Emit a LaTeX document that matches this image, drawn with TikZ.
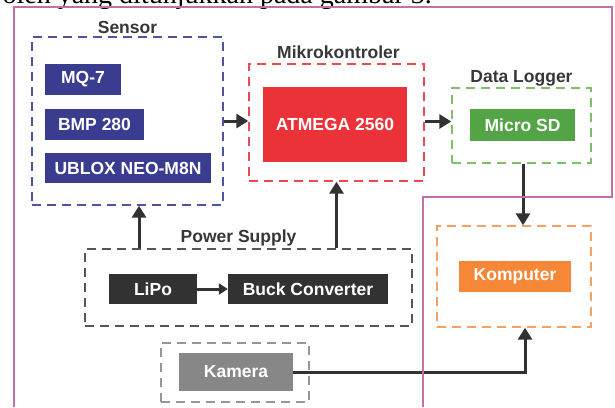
\documentclass[tikz,border=0pt]{standalone}
\usepackage{fontspec}
\setmainfont{Liberation Sans}
\newfontfamily\bodyserif{Liberation Serif}
\usetikzlibrary{arrows.meta}

\definecolor{sensorfill}{RGB}{58,60,143}
\definecolor{sensorline}{RGB}{80,82,165}
\definecolor{mcufill}{RGB}{234,50,56}
\definecolor{mculine}{RGB}{238,72,80}
\definecolor{logfill}{RGB}{82,164,68}
\definecolor{logline}{RGB}{125,192,105}
\definecolor{pcfill}{RGB}{245,135,55}
\definecolor{pcline}{RGB}{247,160,95}
\definecolor{psfill}{RGB}{50,50,50}
\definecolor{psline}{RGB}{85,85,85}
\definecolor{camfill}{RGB}{135,135,135}
\definecolor{camline}{RGB}{150,150,150}
\definecolor{labelgray}{RGB}{55,55,55}
\definecolor{framepink}{RGB}{196,110,170}

\begin{document}
\begin{tikzpicture}[x=1pt,y=-1pt,
  group/.style={draw,line width=1.4pt,dash pattern=on 9pt off 6pt,inner sep=0pt},
  block/.style={text=white,font=\fontsize{17.5}{20}\selectfont\bfseries,inner sep=0pt},
  title/.style={text=labelgray,font=\fontsize{17.5}{20}\selectfont\bfseries,anchor=base,inner sep=0pt},
  link/.style={draw=psfill,line width=3pt,-{Triangle[length=12pt,width=14pt]}}]
 \useasboundingbox (0,0) rectangle (615,407);
 \clip (0,0) rectangle (615,407);

 \node[anchor=base east,inner sep=0pt,font=\bodyserif\fontsize{28}{32}\selectfont] (caption) at (432,3) {oleh yang ditunjukkan pada gambar 3.};

 % sensor group
 \node[group,draw=sensorline,minimum width=191,minimum height=168] (sensorbox) at (127.5,121) {};
 \node[title] at ([yshift=3]sensorbox.north) {Sensor};
 \node[block,fill=sensorfill,minimum width=76,minimum height=31] (mq) at (83,79.5) {MQ-7};
 \node[block,fill=sensorfill,minimum width=99,minimum height=31] (bmp) at (94.5,124.5) {BMP 280};
 \node[block,fill=sensorfill,minimum width=166,minimum height=30] (ublox) at (128,168) {UBLOX NEO-M8N};

 % mikrokontroler
 \node[group,draw=mculine,minimum width=175,minimum height=117] (mcubox) at (336.5,122.5) {};
 \node[title] at ([xshift=2,yshift=5]mcubox.north) {Mikrokontroler};
 \node[block,fill=mcufill,minimum width=144,minimum height=75] (atmega) at (335,124.5) {ATMEGA 2560};

 % data logger
 \node[group,draw=logline,minimum width=139,minimum height=75] (logbox) at (521.5,125.5) {};
 \node[title] at ([yshift=5]logbox.north) {Data Logger};
 \node[block,fill=logfill,minimum width=105,minimum height=32] (microsd) at (522.5,125) {Micro SD};

 % komputer
 \node[group,draw=pcline,minimum width=154,minimum height=101] (pcbox) at (514,276.5) {};
 \node[block,fill=pcfill,minimum width=112,minimum height=31] (komputer) at (515,276.5) {Komputer};

 % power supply
 \node[group,draw=psline,minimum width=327,minimum height=77] (psbox) at (248.5,287.5) {};
 \node[title] at ([xshift=-10,yshift=6]psbox.north) {Power Supply};
 \node[block,fill=psfill,minimum width=88,minimum height=30] (lipo) at (153,289) {LiPo};
 \node[block,fill=psfill,minimum width=160,minimum height=30] (buck) at (308,289) {Buck Converter};

 % kamera
 \node[group,draw=camline,minimum width=148,minimum height=59] (cambox) at (235,372.5) {};
 \node[block,fill=camfill,minimum width=114,minimum height=38] (kamera) at (236,372) {Kamera};

 \draw[link] (sensorbox.east) -- (sensorbox.east -| mcubox.west);
 \draw[link] ([yshift=1]mcubox.east) -- ([yshift=1]mcubox.east -| logbox.west);
 \draw[link] ([xshift=1.5]logbox.south) -- ([xshift=1.5]logbox.south |- pcbox.north);
 \draw[link] ([xshift=11.5]sensorbox.south |- psbox.north) -- ([xshift=11.5]sensorbox.south);
 \draw[link] (mcubox.south |- psbox.north) -- (mcubox.south);
 \draw[link,-{Triangle[length=9pt,width=11pt]}] (lipo) -- (buck);
 \draw[link] (kamera.east) -| ([xshift=11]pcbox.south);

 \draw[framepink,line width=1.3pt] (14,407) -- (14,7) -- (612,7) -- (612,197) -- (423,197) -- (423,407);
\end{tikzpicture}
\end{document}
